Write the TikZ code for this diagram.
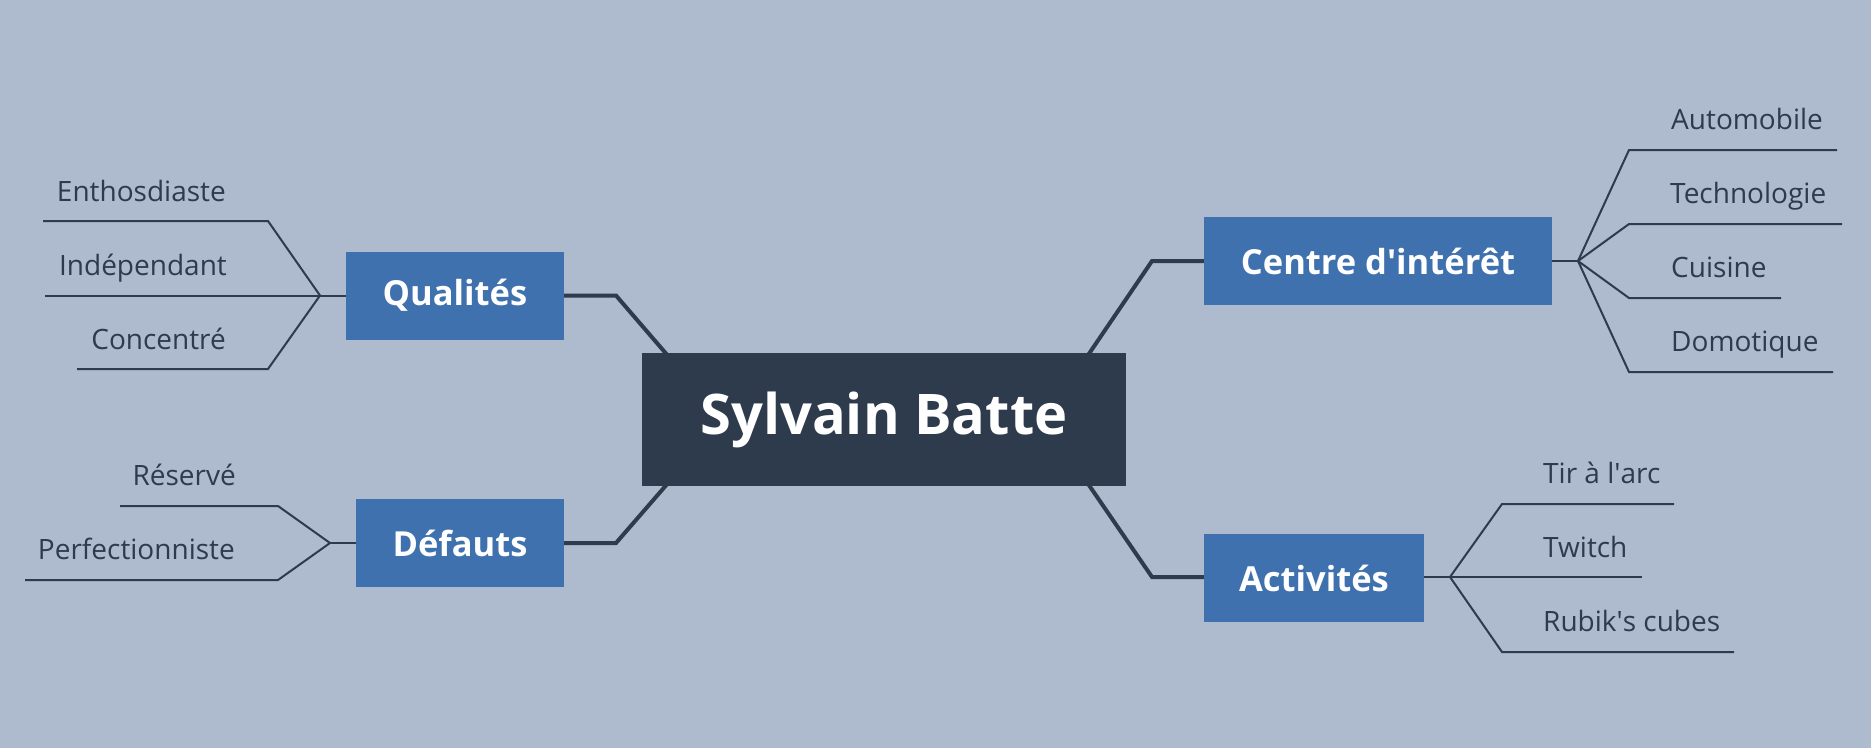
\documentclass[tikz,border=0pt]{standalone}
\usepackage{fontspec}
\setmainfont{Open Sans}
\definecolor{bgc}{HTML}{AEBBCF}
\definecolor{boxc}{HTML}{3F71AE}
\definecolor{darkc}{HTML}{2E3B4D}
\pgfdeclarelayer{bglayer}
\pgfdeclarelayer{linelayer}
\pgfsetlayers{bglayer,linelayer,main}
\tikzset{
  mainbox/.style={fill=darkc, text=white, inner sep=0pt, font=\bfseries\fontsize{56}{60}\selectfont},
  catbox/.style={fill=boxc, text=white, inner sep=0pt, minimum height=88pt, font=\bfseries\fontsize{34.5}{36}\selectfont},
  subL/.style={text=darkc, inner sep=0pt, anchor=base east, font=\fontsize{28}{30}\selectfont},
  subR/.style={text=darkc, inner sep=0pt, anchor=base west, font=\fontsize{28}{30}\selectfont},
  thick link/.style={draw=darkc, line width=4pt},
  thin link/.style={draw=darkc, line width=2pt},
}
\begin{document}
\begin{tikzpicture}[x=1pt,y=-1pt]
\begin{pgfonlayer}{bglayer}
\fill[bgc] (0,0) rectangle (1871,748);
\end{pgfonlayer}
\useasboundingbox (0,0) rectangle (1871,748);

% boxes
\node[mainbox, minimum width=484pt, minimum height=133pt] (central) at (884,419.5) {Sylvain Batte};
\node[catbox, minimum width=218pt] (qual) at (455,295.5) {Qualités};
\node[catbox, minimum width=208pt] (def) at (460,543) {Défauts};
\node[catbox, minimum width=348pt] (centre) at (1378,261) {Centre d\textquotesingle intérêt};
\node[catbox, minimum width=220pt] (act) at (1314,578) {Activités};

% labels
\node[subL] (l1) at (226,201) {Enthosdiaste};
\node[subL] (l2) at (227,275) {Indépendant};
\node[subL] (l3) at (226,349) {Concentré};
\node[subL] (l4) at (236,485) {Réservé};
\node[subL] (l5) at (235,559) {Perfectionniste};
\node[subR] (r1) at (1671,129) {Automobile};
\node[subR] (r2) at (1670,203) {Technologie};
\node[subR] (r3) at (1671,277) {Cuisine};
\node[subR] (r4) at (1671,351) {Domotique};
\node[subR] (r5) at (1543,483) {Tir à l\textquotesingle arc};
\node[subR] (r6) at (1543,557) {Twitch};
\node[subR] (r7) at (1543,631) {Rubik\textquotesingle s cubes};

% coordinates
\coordinate (ctl) at (675,364);
\coordinate (cbl) at (675,475);
\coordinate (ctr) at (1082,364);
\coordinate (cbr) at (1082,475);
\coordinate (bq) at (616,295.5);
\coordinate (bd) at (616,543);
\coordinate (bc) at (1152,261);
\coordinate (ba) at (1152,577);
\coordinate (jq) at (320,295.5);
\coordinate (jd) at (330,543);
\coordinate (jc) at (1578,261);
\coordinate (ja) at (1450,577);

\begin{pgfonlayer}{linelayer}
\draw[thick link] (qual.east) -- (bq) -- (ctl);
\draw[thick link] (def.east) -- (bd) -- (cbl);
\draw[thick link] (centre.west) -- (bc) -- (ctr);
\draw[thick link] (act.west |- ba) -- (ba) -- (cbr);

\draw[thin link] (qual.west) -- (jq);
\draw[thin link] (jq) -- (268,221) -- (43,221);
\draw[thin link] (jq) -- (45,295.5);
\draw[thin link] (jq) -- (268,369) -- (77,369);

\draw[thin link] (def.west) -- (jd);
\draw[thin link] (jd) -- (278,506) -- (120,506);
\draw[thin link] (jd) -- (278,580) -- (25,580);

\draw[thin link] (centre.east) -- (jc);
\draw[thin link] (jc) -- (1629,150) -- (1837,150);
\draw[thin link] (jc) -- (1629,224) -- (1842,224);
\draw[thin link] (jc) -- (1629,298) -- (1781,298);
\draw[thin link] (jc) -- (1629,372) -- (1833,372);

\draw[thin link] (act.east |- ja) -- (ja);
\draw[thin link] (ja) -- (1502,504) -- (1674,504);
\draw[thin link] (ja) -- (1642,577);
\draw[thin link] (ja) -- (1502,652) -- (1734,652);
\end{pgfonlayer}
\end{tikzpicture}
\end{document}
